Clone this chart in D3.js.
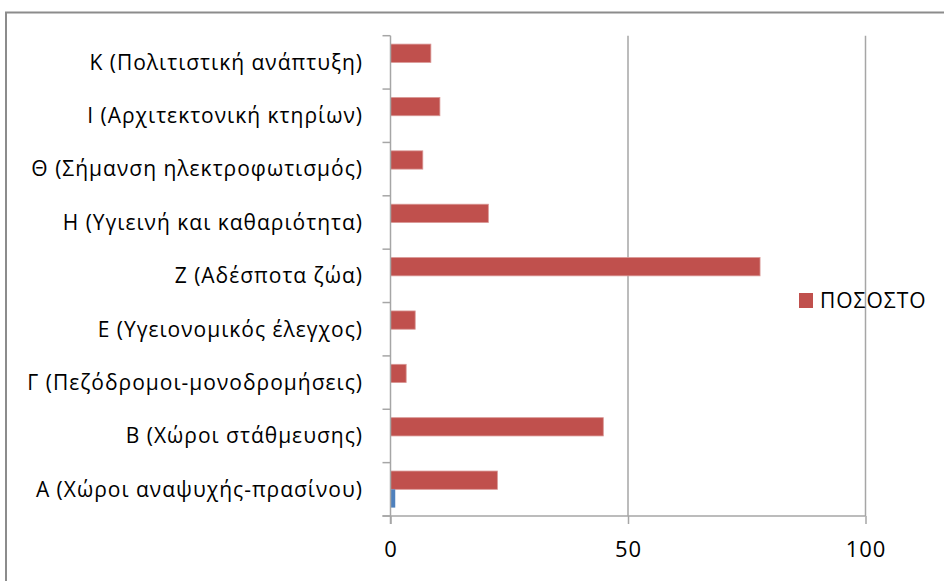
<!DOCTYPE html>
<html lang="el">
<head>
    <meta charset="UTF-8">
    <title>ΠΟΣΟΣΤΟ</title>
    <script src="https://d3js.org/d3.v7.min.js"></script>
    <style>
        body { margin: 0; background: #fff; }
        svg text { font-family: "Open Sans", "Noto Sans", sans-serif; fill: #000; }
    </style>
</head>
<body>
<div id="chart"></div>
<script>

    // categories, bottom to top
    var categories = [
        "Α (Χώροι αναψυχής-πρασίνου)",
        "Β (Χώροι στάθμευσης)",
        "Γ (Πεζόδρομοι-μονοδρομήσεις)",
        "Ε (Υγειονομικός έλεγχος)",
        "Ζ (Αδέσποτα ζώα)",
        "Η (Υγιεινή και καθαριότητα)",
        "Θ (Σήμανση ηλεκτροφωτισμός)",
        "Ι (Αρχιτεκτονική κτηρίων)",
        "Κ (Πολιτιστική ανάπτυξη)"
    ];
    var pososto = [22.5, 44.8, 3.3, 5.2, 77.8, 20.6, 6.8, 10.4, 8.5];
    var other = [1, 0, 0, 0, 0, 0, 0, 0, 0];
    var xTicks = [0, 50, 100];

    var W = 944, H = 581;
    var plotLeft = 390.5, plotRight = 865.5, plotTop = 35.7, plotBottom = 516;

    var svg = d3.select("#chart").append("svg")
        .attr("width", W)
        .attr("height", H);

    // outer frame (runs off the right and bottom edges)
    svg.append("rect")
        .attr("x", 6).attr("y", 12.5)
        .attr("width", W + 20).attr("height", H + 20)
        .attr("fill", "none")
        .attr("stroke", "#8c8c8c")
        .attr("stroke-width", 2);

    var x = d3.scaleLinear().domain([0, 100]).range([plotLeft, plotRight]);
    var y = d3.scaleBand().domain(categories).range([plotBottom, plotTop]).padding(0);
    var y1 = d3.scaleBand().domain(["red", "blue"]).range([0, y.bandwidth()])
        .paddingInner(0).paddingOuter(0.46);

    // vertical gridlines
    svg.append("g").selectAll("line")
        .data(xTicks.slice(1))
        .join("line")
        .attr("x1", function (d) { return x(d); })
        .attr("x2", function (d) { return x(d); })
        .attr("y1", plotTop)
        .attr("y2", plotBottom)
        .attr("stroke", "#a6a6a6")
        .attr("stroke-width", 1.5);

    // bars
    var rows = categories.map(function (c, i) {
        return {cat: c, red: pososto[i], blue: other[i]};
    });

    var g = svg.append("g").selectAll("g")
        .data(rows)
        .join("g")
        .attr("transform", function (d) { return "translate(0," + y(d.cat) + ")"; });

    g.append("rect")
        .attr("x", x(0))
        .attr("y", y1("red"))
        .attr("width", function (d) { return x(d.red) - x(0); })
        .attr("height", y1.bandwidth())
        .attr("fill", "#c0504d")
        .attr("stroke", "#d99795")
        .attr("stroke-width", 0.8);

    g.filter(function (d) { return d.blue > 0; })
        .append("rect")
        .attr("x", x(0))
        .attr("y", y1("blue"))
        .attr("width", function (d) { return x(d.blue) - x(0); })
        .attr("height", y1.bandwidth())
        .attr("fill", "#4f81bd");

    // x axis
    var xAxis = svg.append("g")
        .attr("transform", "translate(0," + plotBottom + ")")
        .call(d3.axisBottom(x).tickValues(xTicks).tickSize(8).tickPadding(17).tickSizeOuter(0));
    xAxis.select(".domain").attr("stroke", "#a6a6a6").attr("stroke-width", 1.5)
        .attr("d", "M" + (plotLeft - 8) + ",0H" + plotRight);
    xAxis.selectAll(".tick line").attr("stroke", "#a6a6a6").attr("stroke-width", 1.5);
    xAxis.selectAll(".tick text")
        .style("font-size", "22px")
        .style("letter-spacing", "1px")
        .attr("fill", "#000");

    // y axis: ticks between categories
    var bounds = categories.map(function (c) { return y(c); }).concat([plotBottom]);
    svg.append("line")
        .attr("x1", plotLeft).attr("x2", plotLeft)
        .attr("y1", plotTop).attr("y2", plotBottom + 8)
        .attr("stroke", "#a6a6a6").attr("stroke-width", 1.5);
    svg.append("g").selectAll("line")
        .data(bounds)
        .join("line")
        .attr("x1", plotLeft - 8).attr("x2", plotLeft)
        .attr("y1", function (d) { return d; })
        .attr("y2", function (d) { return d; })
        .attr("stroke", "#a6a6a6").attr("stroke-width", 1.5);

    svg.append("g").selectAll("text")
        .data(categories)
        .join("text")
        .attr("x", 363)
        .attr("y", function (d) { return y(d) + y.bandwidth() / 2; })
        .attr("dy", "0.35em")
        .attr("text-anchor", "end")
        .style("font-size", "21px")
        .style("letter-spacing", "1px")
        .text(function (d) { return d; });

    // legend
    svg.append("rect")
        .attr("x", 799).attr("y", 293)
        .attr("width", 14).attr("height", 15)
        .attr("fill", "#c0504d");
    svg.append("text")
        .attr("x", 820).attr("y", 308)
        .style("font-size", "21px")
        .style("letter-spacing", "1px")
        .text("ΠΟΣΟΣΤΟ");

</script>
</body>
</html>
